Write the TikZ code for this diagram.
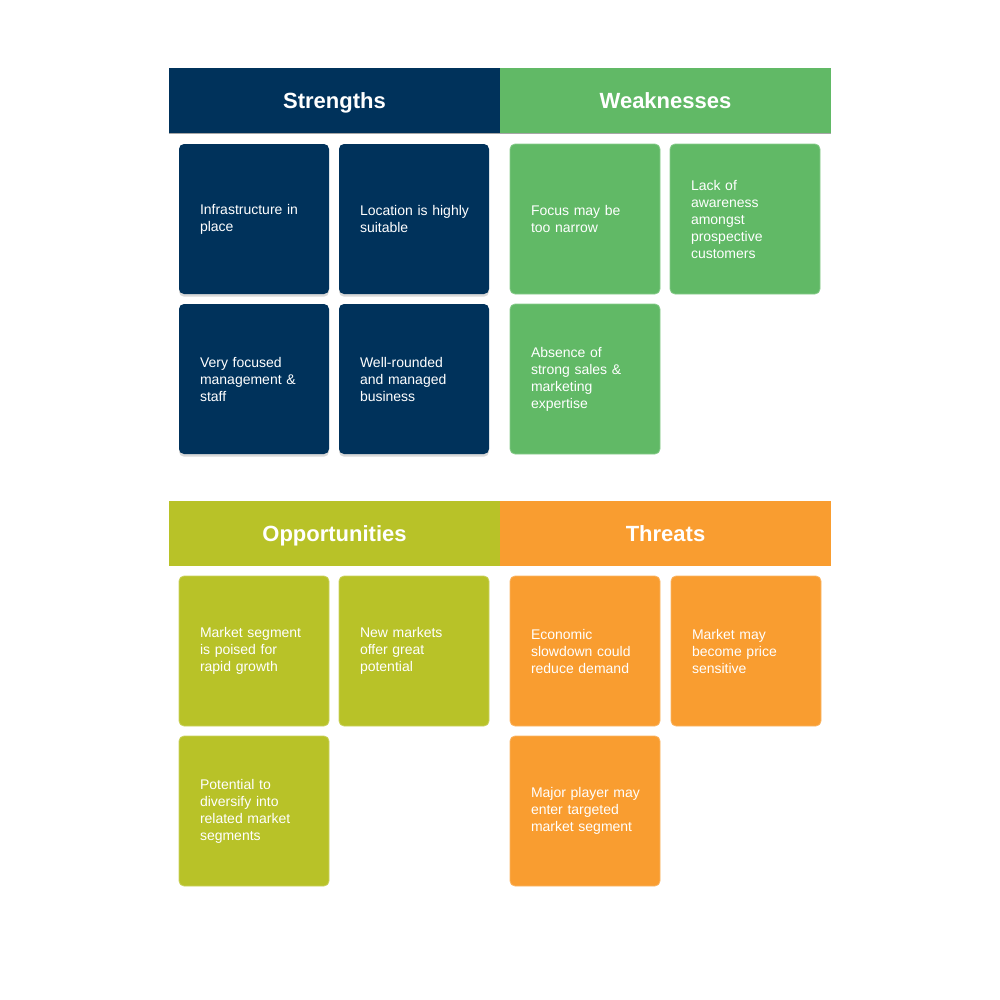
\documentclass[tikz,border=0pt]{standalone}
\usepackage{fontspec}
\setmainfont{Liberation Sans}
\usetikzlibrary{shadows}
\definecolor{swotnavy}{RGB}{0,50,91}
\definecolor{swotgreen}{RGB}{97,185,102}
\definecolor{swotolive}{RGB}{184,194,40}
\definecolor{swotorange}{RGB}{249,157,48}

\tikzset{
  head/.style={fill=#1,minimum width=248.25pt,minimum height=48.75pt,inner sep=0pt,text height=11.8pt,text depth=0pt,text=white,font=\fontsize{16.5}{20}\selectfont\bfseries},
  card/.style={fill=#1,draw=#1!75!white,line width=0.6pt,rounded corners=3.75pt,minimum width=112.5pt,minimum height=112.5pt,inner sep=0pt,text width=81pt,align=left,text=white,font=\fontsize{10.5}{12.75}\selectfont,
    execute at begin node={\rightskip=0pt plus 1fil minus 30pt\relax}},
  navycard/.style={card=swotnavy,draw=none,drop shadow={opacity=0.3,shadow xshift=0pt,shadow yshift=-2pt}}
}

\begin{document}
\begin{tikzpicture}[x=0.75pt,y=-0.75pt]
        \useasboundingbox (0,0) rectangle (1000,1000);
        % headers
        \node[head=swotnavy] (sh) at (334.5,100.5) {Strengths};
        \node[head=swotgreen] (wh) at (665.5,100.5) {Weaknesses};
        \node[head=swotolive] (oh) at (334.5,533.5) {Opportunities};
        \node[head=swotorange] (th) at (665.5,533.5) {Threats};
        \draw[gray!70,line width=0.5pt] (sh.south west) -- (wh.south east);
        % strengths
        \node[navycard] (s1) at (254,219) {Infrastructure in\\ place};
        \node[navycard] (s2) at (414,219) {Location is highly\\ suitable};
        \node[navycard] (s3) at (254,379) {Very focused\\ management \&\\ staff};
        \node[navycard] (s4) at (414,379) {Well-rounded\\ and managed\\ business};
        % weaknesses
        \node[card=swotgreen] (w1) at (585,219) {Focus may be\\ too narrow};
        \node[card=swotgreen] (w2) at (745,219) {Lack of\\ awareness\\ amongst\\ prospective\\ customers};
        \node[card=swotgreen] (w3) at (585,379) {Absence of\\ strong sales \&\\ marketing\\ expertise};
        % opportunities
        \node[card=swotolive] (o1) at (254,651) {Market segment\\ is poised for\\ rapid growth};
        \node[card=swotolive] (o2) at (414,651) {New markets\\ offer great\\ potential};
        \node[card=swotolive] (o3) at (254,811) {Potential to\\ diversify into\\ related market\\ segments};
        % threats
        \node[card=swotorange] (t1) at (585,651) {Economic\\ slowdown could\\ reduce demand};
        \node[card=swotorange] (t2) at (746,651) {Market may\\ become price\\ sensitive};
        \node[card=swotorange] (t3) at (585,811) {Major player may\\ enter targeted\\ market segment};
      \end{tikzpicture}
\end{document}
